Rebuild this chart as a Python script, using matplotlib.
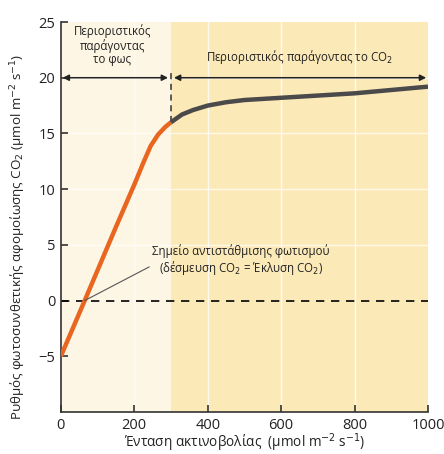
import matplotlib.pyplot as plt

plt.rcParams['font.family'] = ['Open Sans', 'DejaVu Sans']

# Data
light_x = [0, 65, 150, 200, 225, 245, 265, 285, 300]
light_y = [-5.0, 0.0, 6.6, 10.4, 12.4, 13.9, 14.9, 15.6, 16.0]
co2_x = [300, 330, 360, 400, 450, 500, 600, 700, 800, 900, 1000]
co2_y = [16.0, 16.7, 17.1, 17.5, 17.8, 18.0, 18.2, 18.4, 18.6, 18.9, 19.2]
x_ticks = [0, 200, 400, 600, 800, 1000]
y_ticks = [-5, 0, 5, 10, 15, 20, 25]
split_x = 300
comp_point = (65, 0)

fig = plt.figure(figsize=(4.44, 4.54), dpi=100)
ax = fig.add_axes([0.137, 0.0925, 0.827, 0.859])

# background regions
ax.axvspan(0, split_x, color='#fef6e4', zorder=0, lw=0)
ax.axvspan(split_x, 1000, color='#fce9b8', zorder=0, lw=0)
for gx in [400, 600, 800]:
    ax.axvline(gx, color='white', lw=1.0, zorder=1, alpha=0.8)
ax.axvline(200, color='white', lw=1.0, zorder=1, alpha=0.5)
for gy in [5, 10, 15, 20]:
    ax.axhline(gy, color='white', lw=1.0, zorder=1, alpha=0.7)

# zero line and split line
ax.axhline(0, color='black', lw=1.2, ls=(0, (5, 4)), zorder=2)
ax.plot([split_x, split_x], [16.0, 20.8], color='#333333', lw=1.1, ls=(0, (4, 3)), zorder=2)

# curves
ax.plot(light_x, light_y, color='#e8661f', lw=3.2, solid_capstyle='butt', zorder=3)
ax.plot(co2_x, co2_y, color='#4a4a4a', lw=3.2, solid_capstyle='butt', zorder=3)

# double arrows
arr = dict(arrowstyle='<|-|>', color='#222222', lw=1.1, mutation_scale=9, shrinkA=0, shrinkB=0)
ax.annotate('', xy=(5, 20), xytext=(292, 20), arrowprops=arr)
ax.annotate('', xy=(308, 20), xytext=(995, 20), arrowprops=arr)

ax.text(140, 22.9, 'Περιοριστικός\nπαράγοντας\nτο φως', ha='center', va='center',
        fontsize=8.3, linespacing=1.05, color='#222222')
ax.text(650, 21.9, 'Περιοριστικός παράγοντας το CO$_2$', ha='center', va='center',
        fontsize=8.3, color='#222222')

ax.annotate('Σημείο αντιστάθμισης φωτισμού\n(δέσμευση CO$_2$ = Έκλυση CO$_2$)',
            xy=comp_point, xytext=(490, 3.6), ha='center', va='center',
            fontsize=8.3, linespacing=1.1, color='#222222',
            arrowprops=dict(arrowstyle='-', color='#555555', lw=0.8,
                            shrinkA=0, shrinkB=0, relpos=(0, 0.35)))

ax.set_xlim(0, 1000)
ax.set_ylim(-10, 25)
ax.set_xticks(x_ticks)
ax.set_yticks(y_ticks)
ax.set_yticklabels(['\u22125', '0', '5', '10', '15', '20', '25'])
ax.tick_params(direction='in', length=5, width=1.1, labelsize=10.5, pad=4, colors='#222222')
for s in ['top', 'right']:
    ax.spines[s].set_visible(False)
for s in ['left', 'bottom']:
    ax.spines[s].set_linewidth(1.2)
    ax.spines[s].set_color('#333333')

ax.set_xlabel('Ένταση ακτινοβολίας  (μmol m$^{-2}$ s$^{-1}$)', fontsize=9.8, color='#222222')
ax.xaxis.set_label_coords(0.5, -0.05)
ax.set_ylabel('Ρυθμός φωτοσυνθετικής αφομοίωσης CO$_2$ (μmol m$^{-2}$ s$^{-1}$)',
              fontsize=9.6, color='#222222')
ax.yaxis.set_label_coords(-0.09, 0.45)

fig.savefig('out.png', dpi=100)
